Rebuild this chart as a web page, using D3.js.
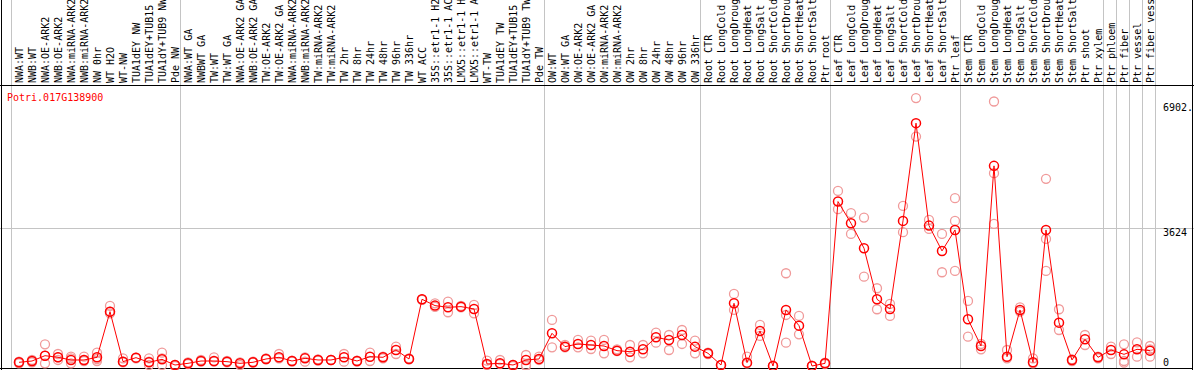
<!DOCTYPE html>
<html>
<head>
<meta charset="utf-8">
<script src="https://cdn.jsdelivr.net/npm/d3@7"></script>
<style>
  body { margin: 0; background: #fff; }
  svg { display: block; }
  text { font-family: "DejaVu Sans Mono", monospace; font-size: 10px; }
</style>
</head>
<body>
<div id="chart"></div>
<script>
// Sample labels (columns), left to right
const samples = [
  "NWA:WT", "NWB:WT", "NWA:OE-ARK2", "NWB:OE-ARK2", "NWA:miRNA-ARK2", "NWB:miRNA-ARK2",
  "NW 0hr", "WT H2O", "WT-NW", "TUA1dEY NW", "TUA1dEY+TUB15 NW", "TUA1dY+TUB9 NW", "Pde NW",
  "NWA:WT GA", "NWBWT GA", "TW:WT", "TW:WT GA", "NWA:OE-ARK2 GA", "NWB:OE-ARK2 GA",
  "TW:OE-ARK2", "TW:OE-ARK2 GA", "NWA:miRNA-ARK2 GA", "NWB:miRNA-ARK2 GA", "TW:miRNA-ARK2",
  "TW:miRNA-ARK2 GA", "TW 2hr", "TW 8hr", "TW 24hr", "TW 48hr", "TW 96hr", "TW 336hr", "WT ACC",
  "35S::etr1-1 H2O", "35S::etr1-1 ACC", "LMX5::etr1-1 H2O", "LMX5::etr1-1 ACC",
  "WT-TW", "TUA1dEY TW", "TUA1dEY+TUB15 TW", "TUA1dY+TUB9 TW", "Pde TW",
  "OW:WT", "OW:WT GA", "OW:OE-ARK2", "OW:OE-ARK2 GA", "OW:miRNA-ARK2", "OW:miRNA-ARK2 GA",
  "OW 2hr", "OW 8hr", "OW 24hr", "OW 48hr", "OW 96hr", "OW 336hr",
  "Root CTR", "Root LongCold", "Root LongDrought", "Root LongHeat", "Root LongSalt",
  "Root ShortCold", "Root ShortDrought", "Root ShortHeat", "Root ShortSalt", "Ptr root",
  "Leaf CTR", "Leaf LongCold", "Leaf LongDrought", "Leaf LongHeat", "Leaf LongSalt",
  "Leaf ShortCold", "Leaf ShortDrought", "Leaf ShortHeat", "Leaf ShortSalt", "Ptr leaf",
  "Stem CTR", "Stem LongCold", "Stem LongDrought", "Stem LongHeat", "Stem LongSalt",
  "Stem ShortCold", "Stem ShortDrought", "Stem ShortHeat", "Stem ShortSalt", "Ptr shoot",
  "Ptr xylem", "Ptr phloem", "Ptr fiber", "Ptr vessel", "Ptr fiber vessel"
];

// mean expression per sample
const means = [
  97, 131, 271, 228, 158, 158, 228, 1426, 114, 219, 97, 175, 26,
  70, 131, 131, 114, 70, 97, 184, 228, 131, 201, 158,
  158, 228, 131, 245, 228, 420, 184, 1751,
  1585, 1541, 1558, 1497,
  53, 70, 26, 158, 184,
  858, 508, 578, 551, 525, 403,
  376, 438, 753, 683, 814, 508,
  333, 26, 1646, 88, 919, 0, 1471, 1059, 0, 70,
  4315, 3747, 3091, 1751, 1497, 3808, 6373, 3684, 3020, 3571,
  1226, 525, 5252, 245, 1471, 97, 3571, 1138, 158, 701,
  228, 420, 306, 438, 403
];

// replicate values per sample
const replicates = [
  [70, 114, 97], [97, 158, 114], [569, 70, 271], [315, 158, 228], [245, 70, 201], [245, 131, 158],
  [350, 131, 184], [1576, 1383, 1427], [201, 97, 114], [219, 201], [201, 26, 114], [350, 26, 201], [26, 0],
  [97, 53], [158, 114], [228, 114], [131, 97], [97, 26], [114, 88], [201, 175], [315, 201],
  [140, 114], [114, 228], [175, 140],
  [158, 158], [114, 315], [140, 114], [350, 131], [245, 201], [508, 315], [201, 175], [1751, 1733],
  [1646, 1550], [1690, 1410], [1576, 1541], [1602, 1383],
  [140, 26], [158, 53], [26, 0], [289, 26, 0], [245, 158],
  [1208, 490], [551, 490], [683, 490], [665, 446], [683, 333], [438, 390],
  [551, 228], [551, 333], [875, 613], [814, 420], [945, 578], [665, 333],
  [350, 315], [26, 18], [1891, 1471], [245, 70], [1077, 788], [0, 9], [2434, 613, 1339], [1313, 832], [0, 9], [88, 53],
  [4595, 4115], [4010, 3466], [3895, 2345], [2040, 1489], [1628, 1313], [4202, 3511], [7030, 6022],
  [3834, 3598], [3466, 2460], [4404, 3808, 2495],
  [1707, 770], [438, 578], [6941, 5060, 3729], [420, 201], [1541, 1427], [201, 70], [4911, 3335, 2495],
  [1489, 945], [131, 175], [814, 551],
  [245, 201], [508, 315], [569, 131, 88], [622, 245], [525, 245, 438]
];

// columns that start a new group (gray separators)
const groupStarts = [0, 13, 41, 53, 63, 73, 84, 85, 86, 87, 88];
const yTicks = [0, 3624];
const yMaxLabel = 6902;
const geneName = "Potri.017G138900";

const W = 1194, H = 370;
const plotTop = 85, plotBottom = 368;

const svg = d3.select("#chart").append("svg")
  .attr("width", W).attr("height", H);

const x = d3.scaleBand()
  .domain(d3.range(samples.length + 1))
  .range([12.5, 12.5 + 13 * (samples.length + 1)])
  .padding(0);
const cx = (i) => x(i) + x.bandwidth() / 2;

const y = d3.scaleLinear().domain([0, yMaxLabel]).range([366, 103]);

// group separator lines through label area and plot
svg.append("g").selectAll("line")
  .data(groupStarts)
  .enter().append("line")
  .attr("x1", (d) => Math.floor(x(d)) - 0.5)
  .attr("x2", (d) => Math.floor(x(d)) - 0.5)
  .attr("y1", 0).attr("y2", plotBottom)
  .style("stroke", "#c4c4c4").style("stroke-width", 1);

// horizontal gridline
svg.append("line")
  .attr("x1", 0).attr("x2", W)
  .attr("y1", Math.round(y(yTicks[1])) + 0.5).attr("y2", Math.round(y(yTicks[1])) + 0.5)
  .style("stroke", "#c4c4c4");

// frame
svg.append("line").attr("x1", 0).attr("x2", W).attr("y1", plotTop + 0.5).attr("y2", plotTop + 0.5)
  .style("stroke", "#000");
svg.append("line").attr("x1", 0).attr("x2", 1192).attr("y1", plotBottom + 0.5).attr("y2", plotBottom + 0.5)
  .style("stroke", "#000");
svg.append("line").attr("x1", 1.5).attr("x2", 1.5).attr("y1", 0).attr("y2", H)
  .style("stroke", "#000");
svg.append("line").attr("x1", 1192.5).attr("x2", 1192.5).attr("y1", 0).attr("y2", H)
  .style("stroke", "#000");

// sample labels
svg.append("g").selectAll("text")
  .data(samples)
  .enter().append("text")
  .attr("transform", (d, i) => `translate(${cx(i) + 4},83) rotate(-90)`)
  .style("fill", "#000")
  .text((d) => d);

// gene name
svg.append("text").attr("x", 7).attr("y", 101).style("fill", "#f00").text(geneName);

// y labels on the right
svg.append("text").attr("x", 1163).attr("y", y(yMaxLabel) + 8).text(yMaxLabel + ".");
svg.append("text").attr("x", 1163).attr("y", y(yTicks[1]) + 8).text(yTicks[1]);
svg.append("text").attr("x", 1163).attr("y", y(yTicks[0]) - 0.5).text(yTicks[0]);

// replicate points
const repPts = [];
replicates.forEach((reps, i) => reps.forEach((v) => repPts.push({ i, v })));
svg.append("g").selectAll("circle")
  .data(repPts)
  .enter().append("circle")
  .attr("cx", (d) => cx(d.i))
  .attr("cy", (d) => y(d.v))
  .attr("r", 4.5)
  .style("fill", "none")
  .style("stroke", "#f09a9a")
  .style("stroke-width", 1.3);

// mean line
const line = d3.line().x((d, i) => cx(i)).y((d) => y(d));
svg.append("path")
  .datum(means)
  .attr("d", line)
  .style("fill", "none")
  .style("stroke", "#f00")
  .style("stroke-width", 1);

// mean points
svg.append("g").selectAll("circle")
  .data(means)
  .enter().append("circle")
  .attr("cx", (d, i) => cx(i))
  .attr("cy", (d) => y(d))
  .attr("r", 4.5)
  .style("fill", "none")
  .style("stroke", "#f00")
  .style("stroke-width", 1.5);
</script>
</body>
</html>
